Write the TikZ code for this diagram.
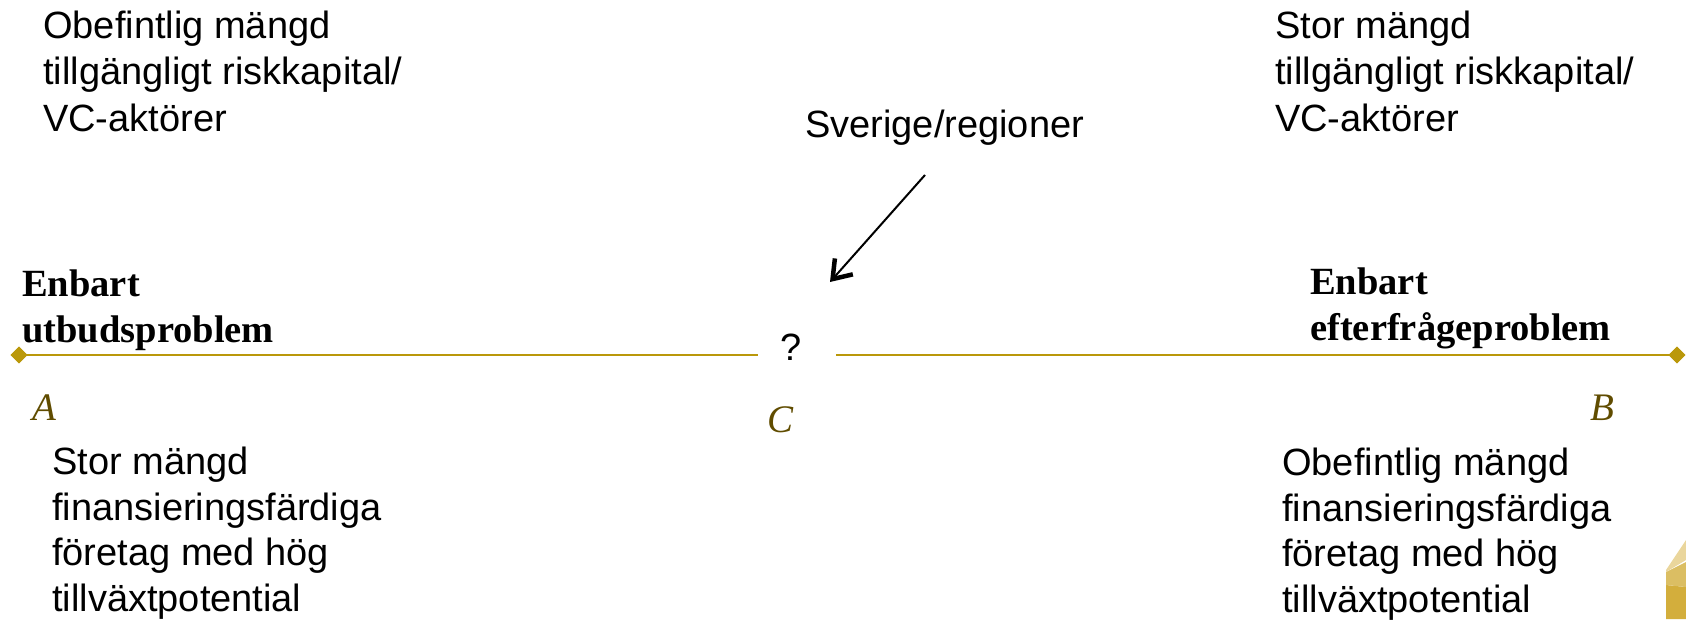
\documentclass[tikz,border=0pt]{standalone}
\usepackage{fontspec}
\setmainfont{Liberation Serif}
\setsansfont{Liberation Sans}
\usetikzlibrary{shapes.geometric,arrows.meta}
\definecolor{gold}{RGB}{186,152,10}
\definecolor{olive}{RGB}{96,76,0}
\definecolor{decoA}{RGB}{211,174,60}
\definecolor{decoB}{RGB}{219,190,99}
\definecolor{decoC}{RGB}{234,214,156}
\tikzset{
  sanstxt/.style={font=\sffamily\fontsize{38}{46.5}\selectfont, align=left, inner sep=0pt, anchor=base west},
  sanslow/.style={font=\sffamily\fontsize{38}{45.5}\selectfont, align=left, inner sep=0pt, anchor=base west},
  boldtxt/.style={font=\rmfamily\bfseries\fontsize{38.5}{46}\selectfont, align=left, inner sep=0pt, anchor=base west},
  letter/.style={font=\rmfamily\itshape\fontsize{39}{46}\selectfont, text=olive, inner sep=0pt, anchor=base west},
  endmark/.style={diamond, fill=gold, minimum size=17pt, inner sep=0pt},
  axis/.style={draw=gold, line width=2pt},
}
\begin{document}
\begin{tikzpicture}[x=1pt,y=-1pt]
\useasboundingbox (0,0) rectangle (1686,619);
% corner decoration
\fill[decoA] (1666,585) -- (1686,587) -- (1686,619) -- (1666,619) -- cycle;
\fill[decoB] (1666,572) -- (1686,562) -- (1686,587) -- (1666,585) -- cycle;
\fill[decoC] (1666,570) -- (1686,540) -- (1686,560) -- (1666,572) -- cycle;
% texts (base anchor = baseline of last line)
\node[sanstxt] (tl) at (43,131) {Obefintlig mängd\\tillgängligt riskkapital/\\VC-aktörer};
\node[sanstxt] (tr) at (1275,131) {Stor mängd\\tillgängligt riskkapital/\\VC-aktörer};
\node[sanstxt] (sv) at (805,137) {Sverige/regioner};
\node[boldtxt] (bl) at (22,342) {Enbart\\utbudsproblem};
\node[boldtxt] (br) at (1310,340) {Enbart\\efterfrågeproblem};
\node[sanstxt] (q) at (780,360) {?};
\node[letter] (A) at (32,420) {A};
\node[letter] (C) at (767,432) {C};
\node[letter] (B) at (1590,420) {B};
\node[sanslow] (bll) at (52,611) {Stor mängd\\finansieringsfärdiga\\företag med hög\\tillväxtpotential};
\node[sanslow] (brl) at (1282,612) {Obefintlig mängd\\finansieringsfärdiga\\företag med hög\\tillväxtpotential};
% axis
\coordinate (lend) at (758,355);
\coordinate (rstart) at (836,355);
\node[endmark] (dA) at (19,355) {};
\node[endmark] (dB) at (1677,355) {};
\draw[axis] (dA.center) -- (lend);
\draw[axis] (rstart) -- (dB.center);
\node[endmark] at (dA) {};
\node[endmark] at (dB) {};
% arrow
\coordinate (as) at (925,175);
\coordinate (ae) at (830,282);
\draw[line width=2pt, -{Straight Barb[length=17pt,width=24pt,line width=4.5pt]}] (as) -- (ae);
\end{tikzpicture}
\end{document}
